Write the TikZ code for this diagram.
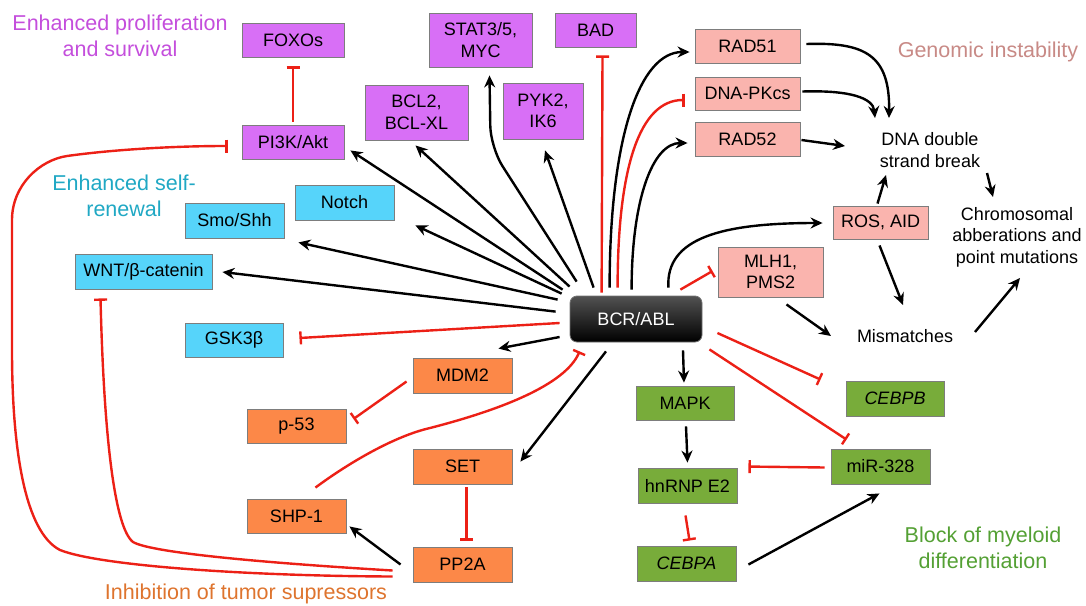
\documentclass[tikz,border=0pt]{standalone}
\usepackage{fontspec}
\setmainfont{Liberation Sans}
\usetikzlibrary{arrows.meta,calc}
\definecolor{cpurple}{RGB}{216,111,246}
\definecolor{ccyan}{RGB}{86,212,250}
\definecolor{csalmon}{RGB}{250,180,174}
\definecolor{corange}{RGB}{252,136,72}
\definecolor{cgreen}{RGB}{120,172,58}
\definecolor{cborder}{RGB}{125,125,125}
\definecolor{cred}{RGB}{236,32,22}
\definecolor{lpurple}{RGB}{196,78,220}
\definecolor{lcyan}{RGB}{32,168,196}
\definecolor{lrose}{RGB}{200,138,134}
\definecolor{lorange}{RGB}{222,116,46}
\definecolor{lgreen}{RGB}{84,160,52}
\newcommand\boxfont{\fontsize{18}{21.6}\selectfont}
\newcommand\labfont{\fontsize{21.5}{25.8}\selectfont}
\begin{document}
\begin{tikzpicture}[x=1pt,y=-1pt,
  box/.style={draw=cborder, line width=0.9pt, inner sep=0pt, align=center, font=\boxfont},
  sz/.style 2 args={minimum width=#1pt, minimum height=#2pt},
  pbox/.style={box, fill=cpurple},
  cbox/.style={box, fill=ccyan},
  sbox/.style={box, fill=csalmon},
  obox/.style={box, fill=corange},
  gbox/.style={box, fill=cgreen},
  txt/.style={inner sep=0pt, align=center, font=\boxfont},
  lab/.style={inner sep=0pt, align=center, font=\labfont},
  arr/.style={line width=2.4pt, black, -{Stealth[length=12pt,width=11pt,inset=4pt]}},
  inh/.style={line width=2.4pt, cred, -{Bar[width=13pt]}}
]
\useasboundingbox (0,0) rectangle (1086,605);

% labels
\node[lab, text=lpurple] (lprol) at (120,36) {Enhanced proliferation\\and survival};
\node[lab, text=lcyan] (lself) at (124,196) {Enhanced self-\\renewal};
\node[lab, text=lrose] (lgen) at (988,52) {Genomic instability};
\node[lab, text=lorange] (ltum) at (246,594) {Inhibition of tumor supressors};
\node[lab, text=lgreen] (lblock) at (983,548) {Block of myeloid\\differentiation};

% purple
\node[pbox, sz={102}{34}] (foxo) at (293,40) {FOXOs};
\node[pbox, sz={102}{34}] (pi3k) at (293,142) {PI3K/Akt};
\node[pbox, sz={103}{55}] (bcl) at (416.5,112.5) {BCL2,\\BCL-XL};
\node[pbox, sz={103}{54}] (stat) at (480.5,40) {STAT3/5,\\MYC};
\node[pbox, sz={80}{56}] (pyk) at (543,111) {PYK2,\\IK6};
\node[pbox, sz={81}{34}] (bad) at (595.5,30) {BAD};
% cyan
\node[cbox, sz={99}{35}] (notch) at (344.5,202.5) {Notch};
\node[cbox, sz={99}{35}] (smo) at (234.5,220.5) {Smo/Shh};
\node[cbox, sz={137}{35}] (wnt) at (143.5,271.5) {WNT/β-catenin};
\node[cbox, sz={98}{34}] (gsk) at (234,340) {GSK3β};
% orange
\node[obox, sz={99}{35}] (mdm) at (462.5,375.5) {MDM2};
\node[obox, sz={99}{34}] (p53) at (296.5,426) {p-53};
\node[obox, sz={99}{35}] (set) at (462.5,466.5) {SET};
\node[obox, sz={99}{34}] (shp) at (296.5,516) {SHP-1};
\node[obox, sz={99}{35}] (pp2a) at (462.5,564.5) {PP2A};
% green
\node[gbox, sz={98}{34}] (mapk) at (685,403) {MAPK};
\node[gbox, sz={99}{35}] (hnrnp) at (687.5,485.5) {hnRNP E2};
\node[gbox, sz={99}{35}] (cebpa) at (686.5,563.5) {\itshape CEBPA};
\node[gbox, sz={98}{35}] (cebpb) at (895,398.5) {\itshape CEBPB};
\node[gbox, sz={99}{35}] (mir) at (880.5,466.5) {miR-328};
% salmon
\node[sbox, sz={105}{34}] (rad51) at (747.5,46) {RAD51};
\node[sbox, sz={105}{33}] (dnapk) at (747.5,93.5) {DNA-PKcs};
\node[sbox, sz={105}{34}] (rad52) at (747.5,139) {RAD52};
\node[sbox, sz={95}{33}] (ros) at (880.5,222.5) {ROS, AID};
\node[sbox, sz={105}{50}] (mlh) at (770.5,272) {MLH1,\\PMS2};
% text nodes
\node[txt] (dsb) at (930,150) {DNA double\\strand break};
\node[txt] (chrom) at (1017,237) {Chromosomal\\abberations and\\point mutations};
\node[txt] (mism) at (905,336) {Mismatches};

% BCR/ABL
\node[draw=black!55, line width=0.8pt, rounded corners=7pt, top color=black!68, bottom color=black,
  minimum width=132pt, minimum height=46pt, inner sep=0pt, text=white, font=\boxfont] (bcr) at (636,319) {BCR/ABL};

% fan from BCR/ABL
\draw[arr] ([shift={(-7,-6)}]bcr.north west) -- ([shift={(6,-9)}]pi3k.south east);
\draw[arr] ([shift={(0,-9)}]bcr.north west) -- ([shift={(-1,5)}]bcl.south);
\draw[arr, rounded corners=22pt] ([shift={(7,-14)}]bcr.north west) -- ++(-86,-134) -- ([shift={(9,8)}]stat.south);
\draw[arr] ([shift={(24,-8)}]bcr.north west) -- ([shift={(2,11)}]pyk.south);
\draw[inh] ([shift={(32,-3)}]bcr.north west) -- ([shift={(7,8)}]bad.south);
\draw[arr] ([shift={(40,-8)}]bcr.north west) .. controls +(0,-150) and +(-50,0) .. ([shift={(-5,6)}]rad51.west);
\draw[inh] ([shift={(48,-8)}]bcr.north west) .. controls +(0,-120) and +(-45,0) .. ([shift={(-10,6.5)}]dnapk.west);
\draw[arr] ([shift={(62,-6)}]bcr.north west) .. controls +(0,-90) and +(-35,0) .. ([shift={(-7,4)}]rad52.west);
\draw[arr] ([shift={(-34,-8)}]bcr.north east) .. controls +(-3,-50) and +(-100,0) .. ([shift={(-10,0.5)}]ros.west);
\draw[inh] ([shift={(-22,-6)}]bcr.north east) -- ([shift={(-5,-1)}]mlh.west);
\draw[arr] ([shift={(-8,-2)}]bcr.north west) -- ([shift={(21,5)}]notch.south east);
\draw[arr] ([shift={(-12,4)}]bcr.north west) -- ([shift={(14,4)}]smo.south east);
\draw[arr] ([shift={(-14,16)}]bcr.north west) -- ([shift={(10,0.5)}]wnt.east);
\draw[inh] ([shift={(-10,4)}]bcr.west) -- ([shift={(16,-2)}]gsk.east);
\draw[arr] ([shift={(-10,18)}]bcr.west) -- ([shift={(-14,-9)}]mdm.north east);
\draw[arr] ([shift={(-30,9)}]bcr.south) -- ([shift={(8,13)}]set.north east);
\draw[arr] ([shift={(47,8)}]bcr.south) -- ([shift={(-1,-3)}]mapk.north);
\draw[inh] ([shift={(15,14)}]bcr.east) -- ([shift={(-25,-1)}]cebpb.north west);
\draw[inh] ([shift={(7,7)}]bcr.south east) -- ([shift={(16,-9)}]mir.north west);

% green pathway
\draw[arr] ([shift={(1,6)}]mapk.south) -- ([shift={(0,-5)}]hnrnp.north);
\draw[inh] ([shift={(-2,12)}]hnrnp.south) -- ([shift={(3,-5)}]cebpa.north);
\draw[arr] ([shift={(12,1)}]cebpa.east) -- ([shift={(-1,9)}]mir.south);
\draw[inh] ([shift={(-6,1)}]mir.west) -- ([shift={(11,-1)}]hnrnp.north east);

% orange pathway
\draw[inh] ([shift={(-6,6)}]mdm.west) -- ([shift={(7,-7)}]p53.east);
\draw[inh] ([shift={(4,3)}]set.south) -- ([shift={(4,-6)}]pp2a.north);
\draw[arr] ([shift={(-12,0)}]pp2a.west) -- ([shift={(3,-7)}]shp.south east);
\draw[inh] ([shift={(-31,-11)}]shp.north east) .. controls (350,462) and (395,436) .. (430,428)
  .. controls (500,410) and (565,385) .. ([shift={(10,9)}]bcr.south west);
\draw[inh] ([shift={(-20,6)}]pp2a.west) .. controls (250,562) and (150,552) .. (133,542)
  .. controls (115,528) and (104,440) .. ([shift={(-43,9)}]wnt.south);
\draw[inh] ([shift={(-20,12)}]pp2a.west) .. controls (250,576) and (100,566) .. (60,550)
  .. controls (25,532) and (12,450) .. (12,350) -- (12,220)
  .. controls (12,185) and (40,160) .. (67,156)
  .. controls (110,150) and (170,146) .. ([shift={(-14,4)}]pi3k.west);
\draw[inh] ([shift={(0,-3)}]pi3k.north) -- ([shift={(0,9)}]foxo.south);

% genomic instability
\draw[arr] ([shift={(6,-2)}]rad51.east) .. controls (865,42) and (890,55) .. ([shift={(-41,-32)}]dsb.center);
\draw[arr] ([shift={(2,-2)}]dnapk.east) .. controls (850,90) and (873,98) .. ([shift={(-55,-32)}]dsb.center);
\draw[arr] ([shift={(1,1)}]rad52.east) -- ([shift={(-85,-4)}]dsb.center);
\draw[arr] ([shift={(-3,-2)}]ros.north) -- ([shift={(-44,25)}]dsb.center);
\draw[arr] ([shift={(57,23)}]dsb.center) -- ([shift={(-24,-40)}]chrom.center);
\draw[arr] ([shift={(-1,6)}]ros.south) -- ([shift={(-2,-31)}]mism.center);
\draw[arr] ([shift={(16,7)}]mlh.south) -- ([shift={(-74,0)}]mism.center);
\draw[arr] ([shift={(70,-4)}]mism.center) -- ([shift={(3,41)}]chrom.center);
\end{tikzpicture}
\end{document}
